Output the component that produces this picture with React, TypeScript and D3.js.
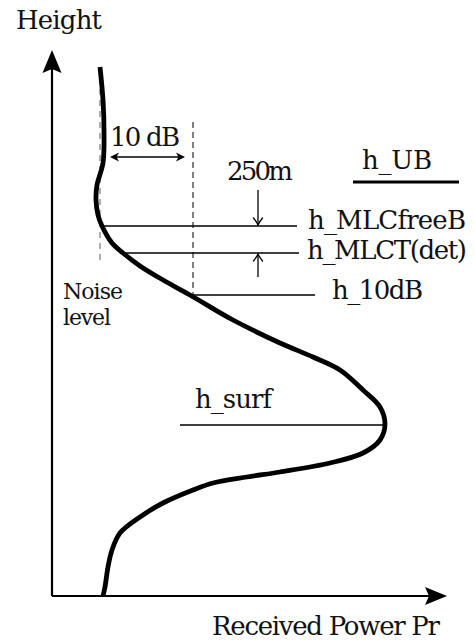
import React from "react";
import * as d3 from "d3";

// ---- Data (arbitrary units: power from origin, height from origin) ----
const profilePower = [48, 51, 52, 51, 45, 44, 46, 50, 60, 71, 88, 111, 138, 181, 228, 261, 288, 311, 328, 333, 328, 311, 278, 228, 195, 161, 141, 111, 88, 68, 60, 56, 53, 51];
const profileHeight = [529, 496, 466, 433, 411, 396, 381, 370, 353, 343, 330, 316, 301, 276, 253, 239, 226, 206, 189, 172, 156, 143, 133, 124, 119, 113, 106, 93, 79, 63, 46, 29, 9, 0];

const noiseLevel = 48;
const noiseTop = 529;
const noiseBottom = 333;
const tenDbPower = 141;
const tenDbTop = 474;
const tenDbArrowHeight = 439;

const levelNames = ["h_MLCfreeB", "h_MLCT(det)", "h_10dB", "h_surf"];
const levelHeights = [370, 343, 301, 171];
const levelStart = [51, 71, 141, 128];
const levelEnd = [245, 247, 263, 333];

const ubHeight = 414;
const ubStart = 301;
const ubEnd = 407;
const gapArrowPower = 206;
const gapArrowFrom = [406, 319];

const W = 475;
const H = 641;
const FONT = "DejaVu Serif";

const x = d3.scaleLinear().domain([0, 395]).range([52, 447]);
const y = d3.scaleLinear().domain([0, 546]).range([596, 50]);

function stealth(tx: number, ty: number, angle: number, len: number, half: number, notch: number, key: string) {
  const p = `M0,0 L${-len},${-half} L${-len + notch},0 L${-len},${half} Z`;
  return <path key={key} d={p} fill="#000" transform={`translate(${tx},${ty}) rotate(${angle})`} />;
}

function barb(tx: number, ty: number, angle: number, key: string) {
  const p = `M-7,-4.5 Q-2.5,-1 0,0 Q-2.5,1 -7,4.5`;
  return <path key={key} d={p} fill="none" stroke="#000" strokeWidth={1.3} strokeLinecap="round" transform={`translate(${tx},${ty}) rotate(${angle})`} />;
}

type Lbl = { t: string; x: number; y: number; len: number; size: number };
const labels: Lbl[] = [
  { t: "Height", x: 16, y: 29, len: 86, size: 26 },
  { t: "Received Power Pr", x: 212, y: 635, len: 228, size: 26 },
  { t: "10 dB", x: 110, y: 146, len: 70, size: 26 },
  { t: "250m", x: 227, y: 180, len: 66, size: 26 },
  { t: "h_UB", x: 362, y: 169, len: 70, size: 26 },
  { t: levelNames[0], x: 308, y: 229, len: 158, size: 26 },
  { t: levelNames[1], x: 307, y: 259, len: 160, size: 26 },
  { t: levelNames[2], x: 332, y: 299, len: 91, size: 26 },
  { t: levelNames[3], x: 195, y: 408, len: 77, size: 26 },
  { t: "Noise", x: 63, y: 299, len: 60, size: 22 },
  { t: "level", x: 63, y: 325, len: 48, size: 22 },
];

export default function App() {
  const pts = profilePower.map((p, i) => [p, profileHeight[i]] as [number, number]);
  const line = d3
    .line<[number, number]>()
    .x((d) => x(d[0]))
    .y((d) => y(d[1]))
    .curve(d3.curveCatmullRom.alpha(0.5));

  return (
    <svg width={W} height={H} style={{ position: "absolute", left: 0, top: 0, background: "#fff" }}>
      {/* axes */}
      <line x1={x(0)} y1={y(0)} x2={x(0)} y2={y(546) + 18} stroke="#000" strokeWidth={2.2} />
      <line x1={x(0)} y1={y(0)} x2={x(395) - 16} y2={y(0)} stroke="#000" strokeWidth={2.2} />
      {stealth(x(0), y(546), -90, 23, 9.5, 4, "ya")}
      {stealth(x(395), y(0), 0, 22, 9, 4, "xa")}

      {/* noise level dashed */}
      <line x1={x(noiseLevel)} y1={y(noiseTop)} x2={x(noiseLevel)} y2={y(noiseBottom)} stroke="#777" strokeWidth={1.2} strokeDasharray="6,5" />
      {/* 10 dB dashed */}
      <line x1={x(tenDbPower)} y1={y(tenDbTop)} x2={x(tenDbPower)} y2={y(levelHeights[2])} stroke="#000" strokeWidth={1} strokeDasharray="6,4" />
      {/* 10 dB double arrow */}
      <line x1={x(noiseLevel) + 12} y1={y(tenDbArrowHeight)} x2={x(tenDbPower) - 10} y2={y(tenDbArrowHeight)} stroke="#000" strokeWidth={1.3} />
      {stealth(x(noiseLevel) + 10, y(tenDbArrowHeight), 180, 9, 4.5, 2.5, "a1")}
      {stealth(x(tenDbPower) - 8, y(tenDbArrowHeight), 0, 9, 4.5, 2.5, "a2")}

      {/* level lines */}
      {levelHeights.map((h, i) => (
        <line key={"lv" + i} x1={x(levelStart[i])} y1={y(h)} x2={x(levelEnd[i])} y2={y(h)} stroke="#000" strokeWidth={1.3} />
      ))}
      {/* h_UB underline */}
      <line x1={x(ubStart)} y1={y(ubHeight)} x2={x(ubEnd)} y2={y(ubHeight)} stroke="#000" strokeWidth={3.2} />

      {/* 250m arrows */}
      <line x1={x(gapArrowPower)} y1={y(gapArrowFrom[0])} x2={x(gapArrowPower)} y2={y(levelHeights[0]) - 1} stroke="#000" strokeWidth={1.3} />
      {barb(x(gapArrowPower), y(levelHeights[0]) - 1, 90, "b1")}
      <line x1={x(gapArrowPower)} y1={y(gapArrowFrom[1])} x2={x(gapArrowPower)} y2={y(levelHeights[1]) + 1} stroke="#000" strokeWidth={1.3} />
      {barb(x(gapArrowPower), y(levelHeights[1]) + 1, -90, "b2")}

      {/* profile */}
      <path d={line(pts) || ""} fill="none" stroke="#000" strokeWidth={4.8} strokeLinecap="butt" strokeLinejoin="round" />

      {labels.map((l, i) => (
        <text key={"t" + i} x={l.x} y={l.y} fontFamily={FONT} fontSize={l.size} fill="#111" textLength={l.len} lengthAdjust="spacing">
          {l.t}
        </text>
      ))}
    </svg>
  );
}
